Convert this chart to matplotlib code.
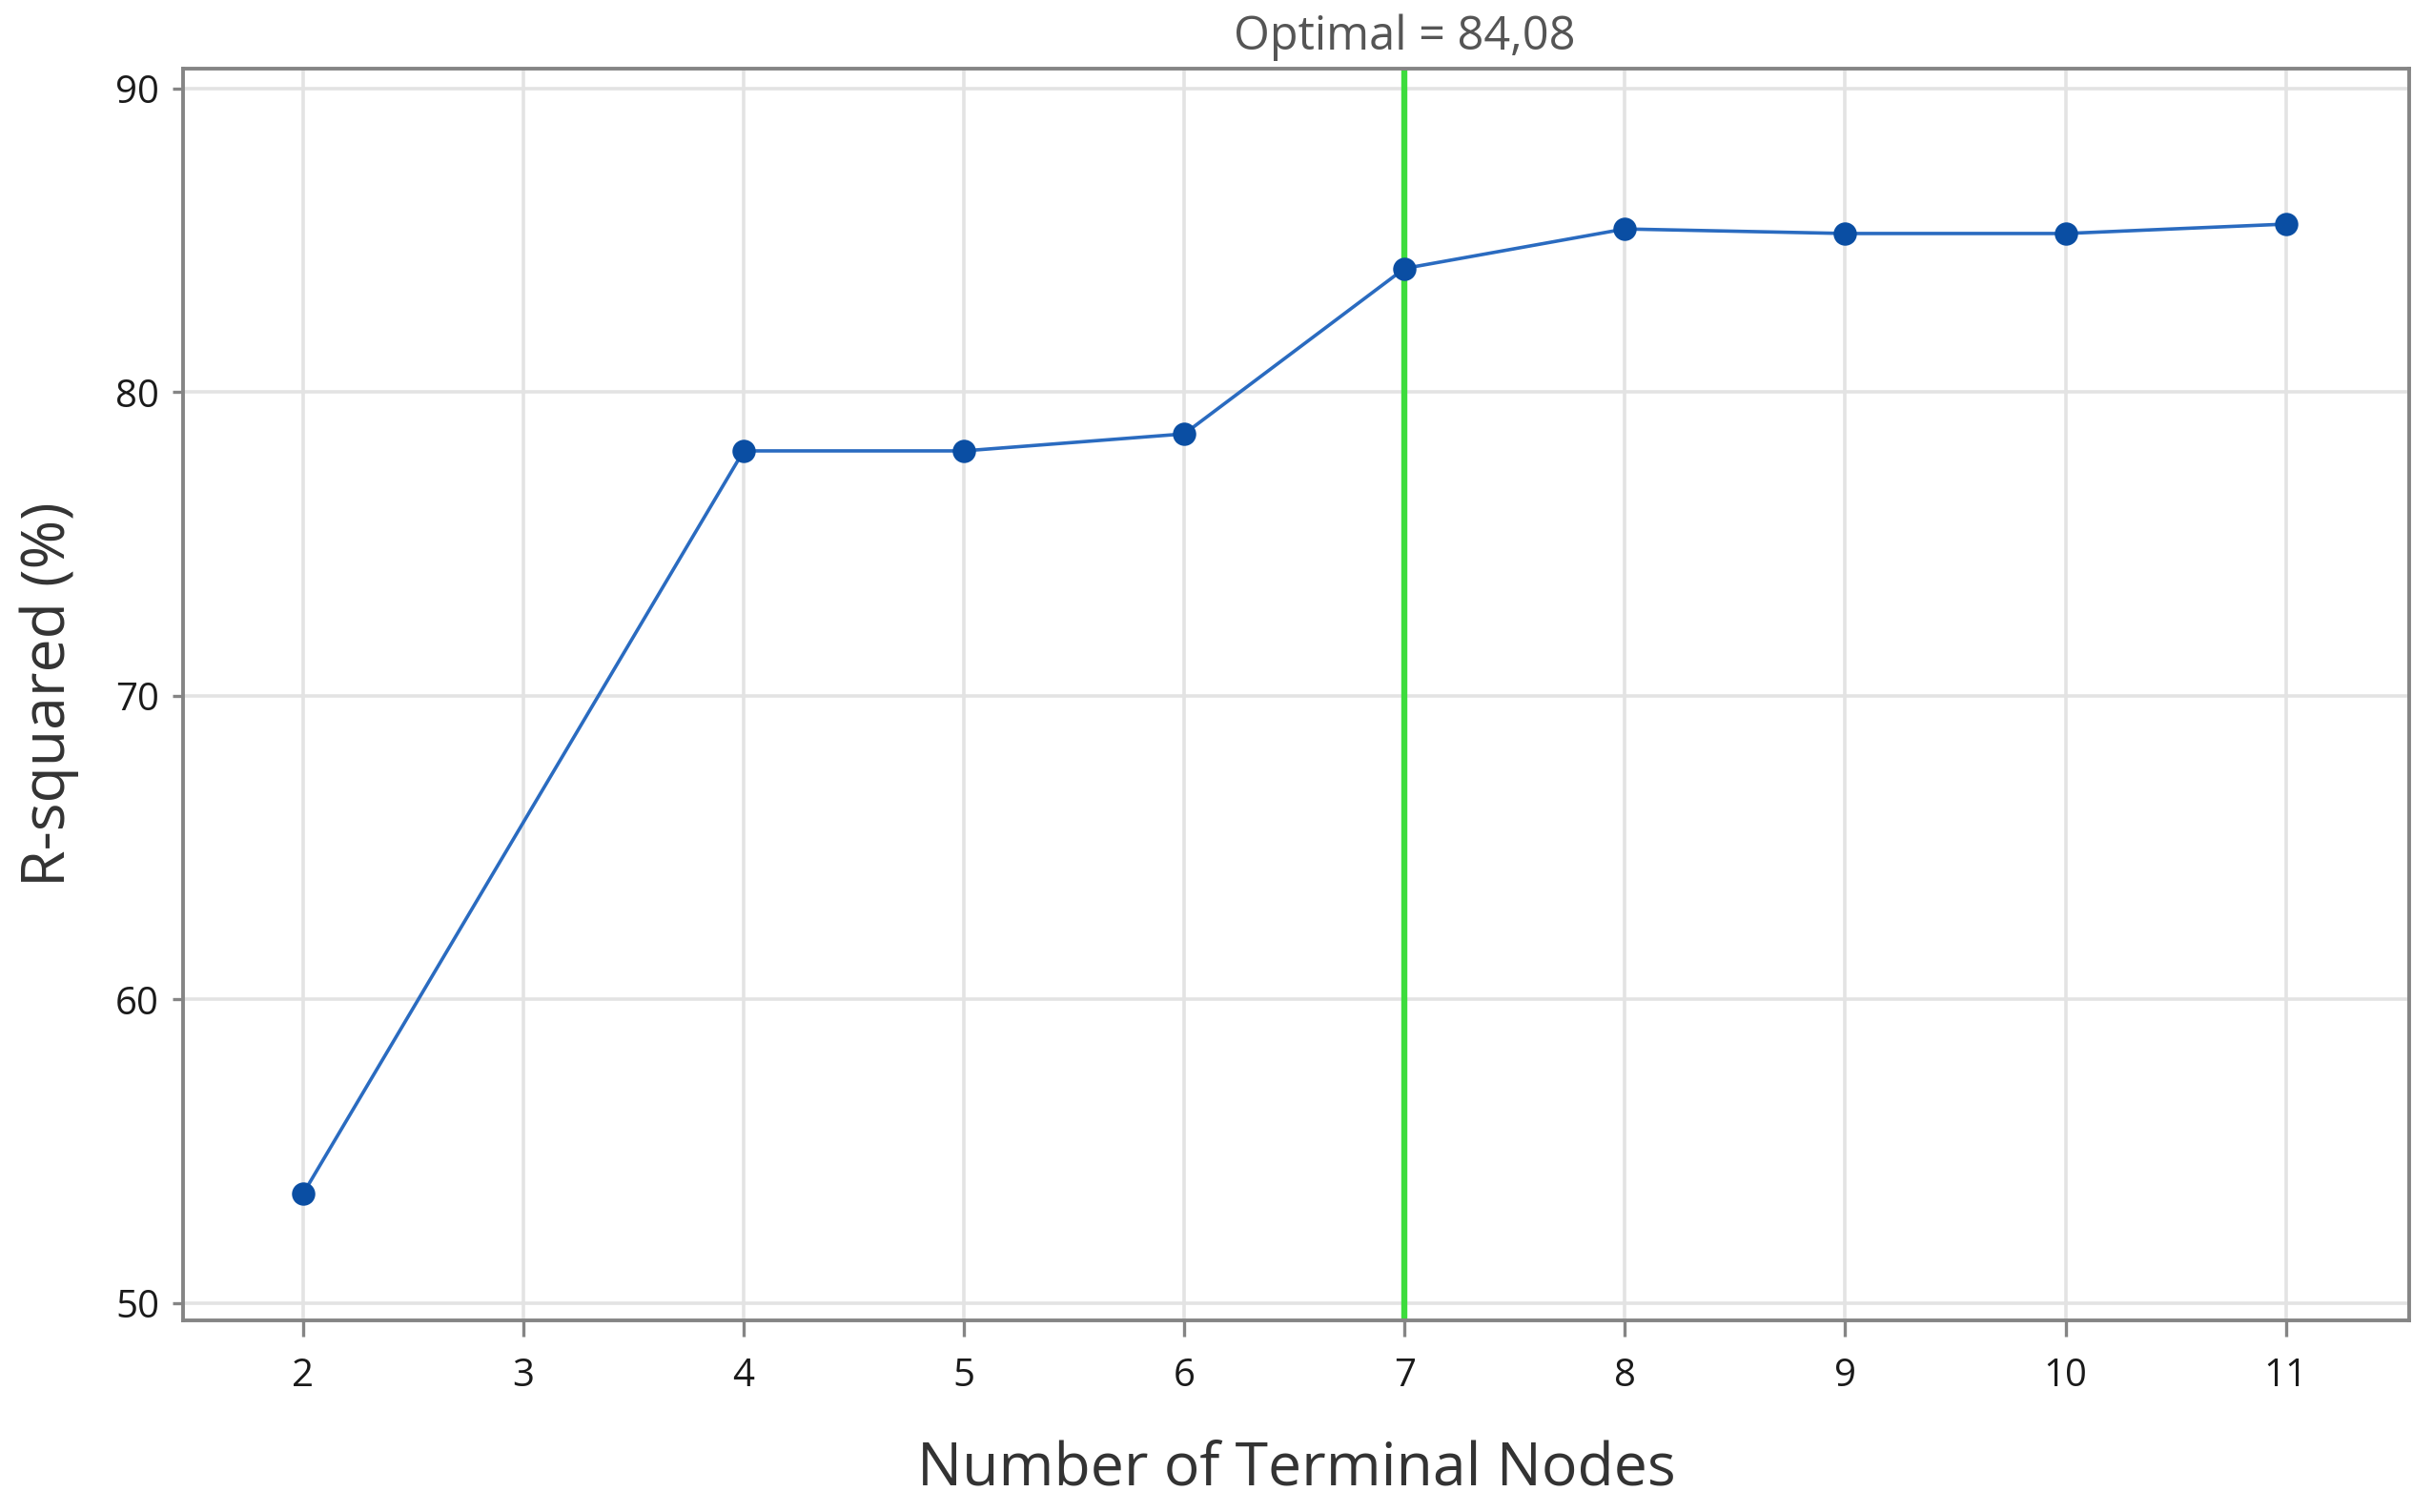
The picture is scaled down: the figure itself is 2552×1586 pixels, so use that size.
import matplotlib
matplotlib.use("Agg")
import matplotlib.pyplot as plt
import matplotlib.transforms as mtransforms

plt.rcParams['font.family'] = ['Open Sans', 'DejaVu Sans']

# data
nodes = [2, 4, 5, 6, 7, 8, 9, 10, 11]
r_squared = [53.6, 78.07, 78.07, 78.63, 84.08, 85.38, 85.23, 85.23, 85.54]
x_ticks = [2, 3, 4, 5, 6, 7, 8, 9, 10, 11]
y_ticks = [50, 60, 70, 80, 90]
optimal_nodes = 7
optimal_label = "Optimal = 84,08"

fig = plt.figure(figsize=(12.76, 7.93), dpi=200)
ax = fig.add_axes([0.0752, 0.1267, 0.9150, 0.8279])

ax.grid(True, color='#e3e3e3', linewidth=1.3, zorder=0)
ax.axvline(optimal_nodes, color='#3ddc3d', linewidth=2.3, zorder=2)
ax.plot(nodes, r_squared, color='#2a6bc0', linewidth=1.3, marker='o',
        markersize=7.8, markerfacecolor='#0a4ea3', markeredgecolor='#0a4ea3',
        zorder=3)

ax.set_xlim(1.455, 11.56)
ax.set_ylim(49.43, 90.66)
ax.set_xticks(x_ticks)
ax.set_yticks(y_ticks)

for s in ax.spines.values():
    s.set_color('#858585')
    s.set_linewidth(1.4)

ax.tick_params(axis='both', direction='out', color='#858585', width=1.2,
               labelsize=14.5, labelcolor='#1a1a1a')
ax.tick_params(axis='x', length=6, pad=8)
ax.tick_params(axis='y', length=4, pad=5)
for lbl in ax.get_xticklabels() + ax.get_yticklabels():
    lbl.set_fontweight('medium')

ax.set_xlabel("Number of Terminal Nodes", fontsize=22.5, color='#333333')
ax.xaxis.set_label_coords(0.5, -0.119)
ax.xaxis.label.set_va('center')
ax.set_ylabel("R-squared (%)", fontsize=22.5, color='#333333')
ax.yaxis.set_label_coords(-0.06, 0.5)
ax.yaxis.label.set_va('center')

trans = mtransforms.blended_transform_factory(ax.transData, ax.transAxes)
ax.text(optimal_nodes, 1.025, optimal_label, transform=trans, ha='center',
        va='center', fontsize=17.5, color='#555555')

fig.savefig("out.png", dpi=200, facecolor='white')
